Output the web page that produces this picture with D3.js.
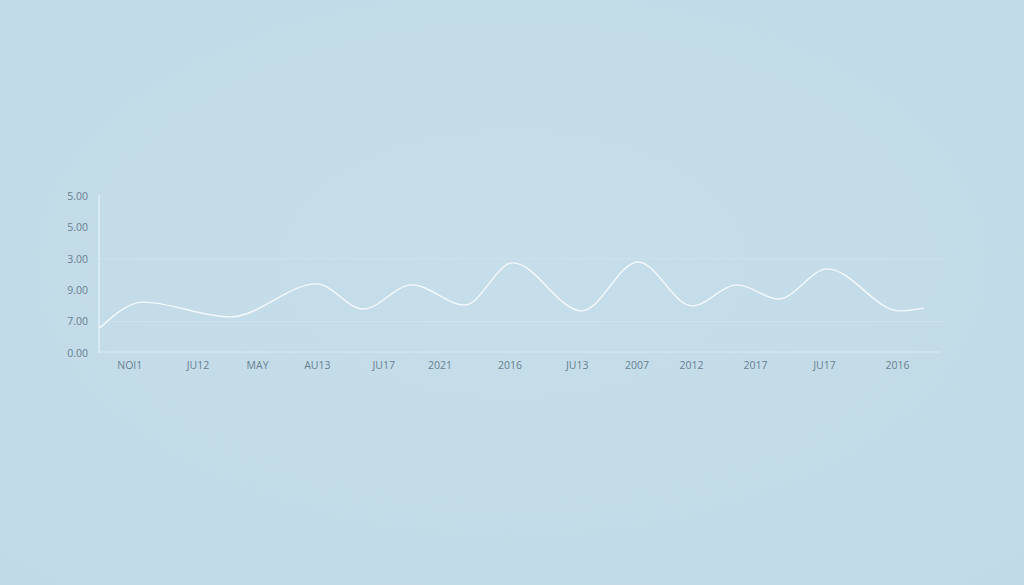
<!DOCTYPE html>
<html>
<head>
<meta charset="utf-8">
<script src="https://cdn.jsdelivr.net/npm/d3@7"></script>
<style>
  html, body { margin: 0; padding: 0; background: #c5dde9; }
  svg { display: block; }
</style>
</head>
<body>
<svg id="chart" width="1024" height="585"></svg>
<script>
// ---- data ----
const yTickLabels = ["0.00", "7.00", "9.00", "3.00", "5.00", "5.00"];
const yTickSlots = [0, 1, 2, 3, 4, 5];
const gridSlots = [1, 3];

const xTickLabels = ["NOI1", "JU12", "MAY", "AU13", "JU17", "2021", "2016", "JU13", "2007", "2012", "2017", "JU17", "2016"];
const xTickPositions = [3.6, 11.7, 18.8, 25.9, 33.8, 40.5, 48.8, 56.8, 63.9, 70.4, 78.0, 86.2, 94.9];

const seriesX = [0.1, 5.2, 15.6, 25.9, 31.4, 37.2, 43.5, 49.2, 57.4, 64.1, 70.5, 75.9, 80.8, 86.6, 95.2, 98.0];
const seriesY = [0.80, 1.62, 1.15, 2.20, 1.40, 2.17, 1.53, 2.87, 1.34, 2.90, 1.50, 2.17, 1.72, 2.68, 1.34, 1.43];

// ---- layout ----
(function () {
const svg = d3.select("#chart");
const W = 1024, H = 585;
const mLeft = 99, mRight = 940, mTop = 196, mBottom = 353;

const bg = svg.append("defs").append("radialGradient").attr("id", "bgGrad")
  .attr("cx", "50%").attr("cy", "45%").attr("r", "75%");
bg.append("stop").attr("offset", "0%").attr("stop-color", "#c6deea");
bg.append("stop").attr("offset", "100%").attr("stop-color", "#c1dae7");
svg.append("rect").attr("width", W).attr("height", H).attr("fill", "url(#bgGrad)");

const x = d3.scaleLinear().domain([0, 100]).range([mLeft, mRight]);
const y = d3.scaleLinear().domain([0, 5]).range([mBottom, mTop]);

// gridlines
svg.append("g").selectAll("line").data(gridSlots).join("line")
  .attr("x1", x(0)).attr("x2", x(100) + 4)
  .attr("y1", d => y(d)).attr("y2", d => y(d))
  .attr("stroke", "#d6e8f1").attr("stroke-width", 1).attr("opacity", 0.5);

// y axis
const yAxis = svg.append("g").attr("transform", `translate(${mLeft},0)`)
  .call(d3.axisLeft(y).tickValues(yTickSlots).tickFormat((d, i) => yTickLabels[i]).tickSize(0).tickPadding(11));
yAxis.select(".domain").attr("stroke", "#e2eff5").attr("stroke-width", 1.5)
  .attr("d", `M0,${y(5) - 1}V${mBottom}`);
yAxis.selectAll("text").attr("fill", "#687f91").attr("font-family", "Open Sans, Lato, sans-serif").attr("font-size", "10.5px");

// x axis
const xAxis = svg.append("g").attr("transform", `translate(0,${mBottom - 1})`)
  .call(d3.axisBottom(x).tickValues(xTickPositions).tickFormat((d, i) => xTickLabels[i]).tickSize(0).tickPadding(10));
xAxis.select(".domain").attr("stroke", "#dbeaf2").attr("stroke-width", 1.2)
  .attr("d", `M${mLeft},0H${x(100) + 1}`);
xAxis.selectAll("text").attr("fill", "#687f91").attr("font-family", "Open Sans, Lato, sans-serif").attr("font-size", "10.5px");

// line
const pts = seriesX.map((v, i) => [v, seriesY[i]]);
const line = d3.line().x(d => x(d[0])).y(d => y(d[1])).curve(d3.curveMonotoneX);
svg.append("path").datum(pts)
  .attr("d", line)
  .attr("fill", "none")
  .attr("stroke", "#f4f9fb")
  .attr("stroke-width", 1.4)
  .attr("stroke-linecap", "round");
})();
</script>
</body>
</html>
